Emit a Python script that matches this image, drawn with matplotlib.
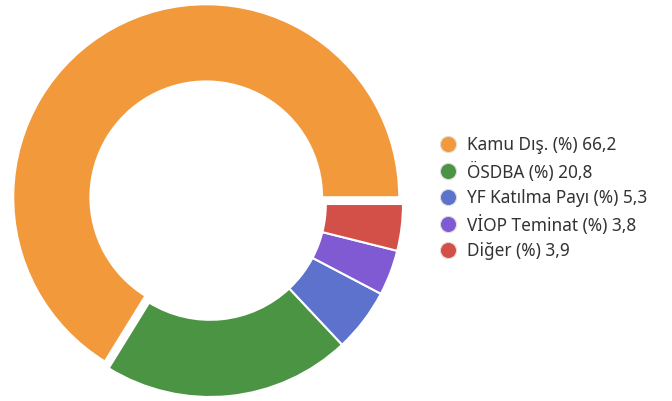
import matplotlib
matplotlib.use("Agg")
import matplotlib.pyplot as plt

categories = ["Kamu Dış.", "ÖSDBA", "YF Katılma Payı", "VİOP Teminat", "Diğer"]
values = [66.2, 20.8, 5.3, 3.8, 3.9]
colors = ["#F29A3B", "#4A9444", "#5C72CC", "#805AD2", "#D25048"]
explode = [0.04, 0, 0, 0, 0]

plt.rcParams['font.family'] = ['Noto Sans', 'DejaVu Sans']

W, H = 672, 402
fig = plt.figure(figsize=(W / 100, H / 100), dpi=100)

# pie axes: center (210, 205) px from top-left, radius 193 px
cx, cy, R = 210, 205, 193
half = 200
ax = fig.add_axes([(cx - half) / W, (H - cy - half) / H, 2 * half / W, 2 * half / H])
ax.pie(values, colors=colors, startangle=0, counterclock=True, radius=1,
       explode=explode,
       wedgeprops=dict(width=0.4, edgecolor="white", linewidth=1.5))
lim = half / R
ax.set_xlim(-lim, lim)
ax.set_ylim(-lim, lim)
ax.set_aspect("equal")
ax.axis("off")

# legend
lax = fig.add_axes([0, 0, 1, 1])
lax.set_xlim(0, W)
lax.set_ylim(H, 0)
lax.axis("off")
y0, dy = 145, 26.6
for i, (c, v, col) in enumerate(zip(categories, values, colors)):
    y = y0 + i * dy
    lax.scatter([448], [y], s=135, color=col, edgecolors="#dddddd", linewidths=0.8, zorder=3)
    label = f"{c} (%) " + f"{v:.1f}".replace(".", ",")
    lax.text(467, y, label, fontsize=12.4, color="#333333", va="center", ha="left")

fig.savefig("out.png", dpi=100)
